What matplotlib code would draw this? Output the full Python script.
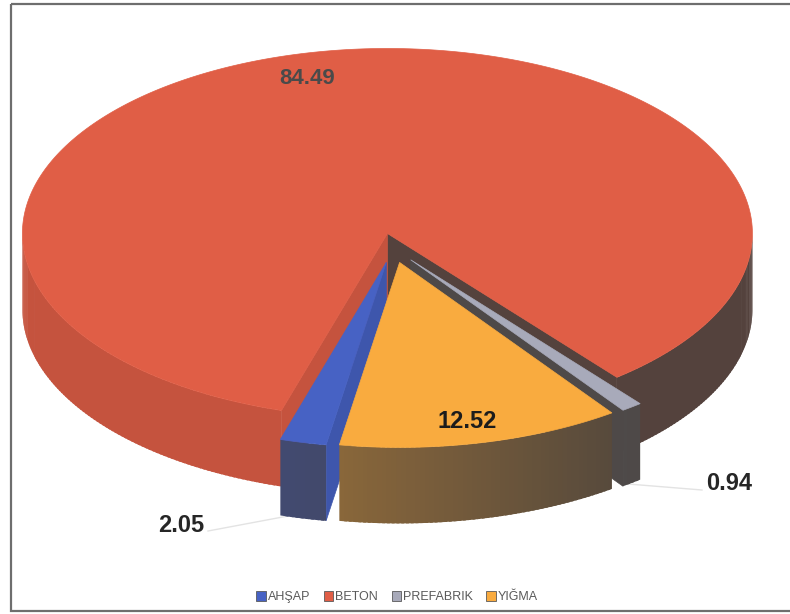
import numpy as np
import matplotlib
matplotlib.use("Agg")
import matplotlib.pyplot as plt
from matplotlib.colors import to_rgb
from matplotlib.patches import Polygon, Rectangle, Patch

# ---- data -------------------------------------------------------------
categories = ["AHŞAP", "BETON", "PREFABRIK", "YIĞMA"]
values = [2.05, 84.49, 0.94, 12.52]
explode = [0.08, 0.08, 0.08, 0.08]
colors = ["#4762C4", "#E05E46", "#A8AABA", "#F9AB3F"]
value_labels = ["2.05", "84.49", "0.94", "12.52"]

# ---- style / geometry ------------------------------------------------
W, H = 790, 614
CX, CY = 393, 248          # centre of the pie top (pixels)
RX, RY = 365, 185          # radii of the elliptical top face
DEPTH = 76                 # thickness of the pie
START = -99.5              # start angle, slices go clockwise
wall_light = [0.40, 1.0, 0.45, 0.45]
label_xy = [(181, 526), (307, 79), (729, 483), (467, 422)]
label_size = [17, 16, 17, 17]
label_color = ["#262626", "#4a4a4a", "#262626", "#1c1c1c"]

fig = plt.figure(figsize=(W / 100, H / 100), dpi=100)
ax = fig.add_axes([0, 0, 1, 1])
ax.set_xlim(0, W)
ax.set_ylim(H, 0)
ax.axis("off")


def proj(r, th, off, z):
    """Project a point of the pie (radius r, angle th, depth z) to the page."""
    x = CX + RX * (r * np.cos(th) + off[0])
    y = CY - RY * (r * np.sin(th) + off[1]) + DEPTH * z
    return x, y


def side_colours(base):
    base = np.array(to_rgb(base))
    side = base * 0.88
    dark = base * 0.10 + np.array([0.24, 0.22, 0.21])
    return side, dark


def mix(side, dark, t):
    t = float(np.clip(t, 0, 1))
    return tuple(dark + (side - dark) * t)


# slice angles (radians), counter-clockwise from th1 to th2
total = float(sum(values))
slices = []
cum = 0.0
for i, v in enumerate(values):
    a_start = START - 360.0 * cum / total
    a_end = a_start - 360.0 * v / total
    cum += v
    th1, th2 = np.radians(a_end), np.radians(a_start)
    mid = 0.5 * (th1 + th2)
    off = (explode[i] * np.cos(mid), explode[i] * np.sin(mid))
    slices.append((th1, th2, off))

draw_order = [1, 0, 2, 3]

# ---- side walls --------------------------------------------------------
for i in draw_order:
    th1, th2, off = slices[i]
    side, dark = side_colours(colors[i])
    # radial cut faces
    for th, nrm in ((th1, th1 - np.pi / 2), (th2, th2 + np.pi / 2)):
        if np.sin(nrm) < 0:
            t = ((1 + np.cos(nrm)) / 2 - 0.2) / 0.6
            pts = [proj(0, th, off, 0), proj(1, th, off, 0),
                   proj(1, th, off, 1), proj(0, th, off, 1)]
            c = mix(side, dark, t)
            ax.add_patch(Polygon(pts, closed=True, facecolor=c, edgecolor=c,
                                 lw=0.5, zorder=2))
    # curved outer wall, shaded strip by strip (each strip overlaps the next)
    n = max(2, int(np.degrees(th2 - th1) / 0.75))
    edges = np.linspace(th1, th2, n + 1)
    step = edges[1] - edges[0]
    for k, (a, b) in enumerate(zip(edges[:-1], edges[1:])):
        m = 0.5 * (a + b)
        if np.sin(m) >= 0:
            continue
        t = wall_light[i] * ((1 - np.cos(m)) / 2 - 0.2) / 0.45
        b_ext = b + 0.6 * step if k < n - 1 and np.sin(b + step / 2) < 0 else b
        arc = np.linspace(a, b_ext, 4)
        top = [proj(1, s, off, 0) for s in arc]
        bot = [proj(1, s, off, 1) for s in arc[::-1]]
        c = mix(side, dark, t)
        ax.add_patch(Polygon(top + bot, closed=True, facecolor=c,
                             edgecolor="none", lw=0, zorder=2))

# ---- top faces ---------------------------------------------------------
for i in draw_order:
    th1, th2, off = slices[i]
    arc = np.linspace(th1, th2, max(8, int(np.degrees(th2 - th1))))
    pts = [proj(0, 0, off, 0)] + [proj(1, s, off, 0) for s in arc]
    ax.add_patch(Polygon(pts, closed=True, facecolor=colors[i],
                         edgecolor=colors[i], lw=0.5, zorder=3))

# ---- leader lines and value labels ------------------------------------
ax.plot([208, 288], [531, 516], color="#e3e3e3", lw=1.0, zorder=1)
ax.plot([628, 702], [484, 490], color="#e3e3e3", lw=1.0, zorder=1)

for i, txt in enumerate(value_labels):
    x, y = label_xy[i]
    ax.text(x, y, txt, ha="center", va="center", fontsize=label_size[i],
            fontweight="bold", color=label_color[i],
            family=["Liberation Sans", "DejaVu Sans"], zorder=5)

# ---- legend ------------------------------------------------------------
handles = [Patch(facecolor=c, edgecolor="#5a5a5a", lw=0.6) for c in colors]
leg = ax.legend(handles, categories, loc="center",
                bbox_to_anchor=(397 / W, 1 - 597 / H), ncol=4, frameon=False,
                handlelength=0.75, handleheight=0.8, handletextpad=0.15,
                columnspacing=1.1, borderaxespad=0,
                prop={"family": ["Liberation Sans", "DejaVu Sans"], "size": 9})
for t in leg.get_texts():
    t.set_color("#5a5a5a")

# ---- chart frame -------------------------------------------------------
ax.add_patch(Rectangle((11, 4), 800, 607, fill=False, edgecolor="#6e6e6e",
                       lw=1.6, zorder=6, clip_on=False))

fig.savefig("out.png", dpi=100)
